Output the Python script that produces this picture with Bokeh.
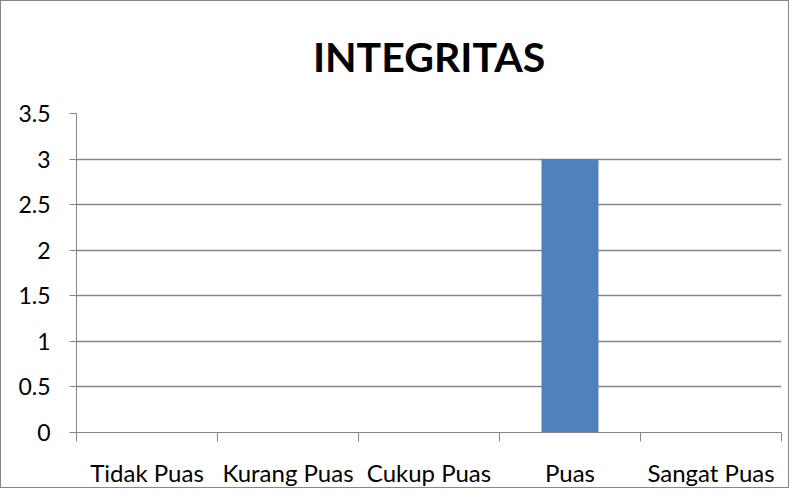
from bokeh.plotting import figure
from bokeh.models import Range1d, FixedTicker, NumeralTickFormatter, ColumnDataSource
from bokeh.embed import file_html
from bokeh.resources import INLINE

# ---- data ----
categories = ["Tidak Puas", "Kurang Puas", "Cukup Puas", "Puas", "Sangat Puas"]
values = [0, 0, 0, 3, 0]
y_ticks = [0, 0.5, 1, 1.5, 2, 2.5, 3, 3.5]

positions = [i + 0.5 for i in range(len(categories))]
boundaries = list(range(len(categories) + 1))

src = ColumnDataSource(dict(x=positions, top=values, cat=categories))

FONT = "Lato"
GRID = "#868686"

p = figure(width=789, height=488, output_backend="svg", toolbar_location=None,
           x_range=Range1d(0, len(categories)), y_range=Range1d(0, y_ticks[-1]),
           min_border_left=75, min_border_right=9, min_border_top=111, min_border_bottom=53,
           title="INTEGRITAS")
p.styles = {"border": "1px solid #868686", "box-sizing": "border-box"}

p.title.text_font = FONT
p.title.text_font_style = "bold"
p.title.text_font_size = "41px"
p.title.align = "center"
p.title.vertical_align = "top"
p.title.text_color = "#000000"
p.title.standoff = 61

p.vbar(x="x", top="top", width=0.404, source=src, fill_color="#4F81BD", line_color=None)

# y axis
p.yaxis.ticker = FixedTicker(ticks=y_ticks)
p.yaxis.formatter = NumeralTickFormatter(format="0.[0]")
p.yaxis.axis_line_color = GRID
p.yaxis.major_tick_line_color = GRID
p.yaxis.major_tick_out = 7
p.yaxis.major_tick_in = 0
p.yaxis.minor_tick_line_color = None
p.yaxis.major_label_standoff = 19
p.yaxis.major_label_text_font = FONT
p.yaxis.major_label_text_font_size = "23px"
p.yaxis.major_label_text_color = "#000000"

# x axis: labels at category centres, tick marks at category boundaries
p.xaxis.ticker = FixedTicker(ticks=positions, minor_ticks=boundaries)
p.xaxis.major_label_overrides = {pos: cat for pos, cat in zip(positions, categories)}
p.xaxis.axis_line_color = GRID
p.xaxis.major_tick_line_color = None
p.xaxis.major_tick_out = 0
p.xaxis.major_tick_in = 0
p.xaxis.minor_tick_line_color = GRID
p.xaxis.minor_tick_out = 9
p.xaxis.minor_tick_in = 0
p.xaxis.major_label_standoff = 16
p.xaxis.major_label_text_font = FONT
p.xaxis.major_label_text_font_size = "24px"
p.xaxis.major_label_text_color = "#000000"

p.xgrid.grid_line_color = None
p.ygrid.ticker = FixedTicker(ticks=y_ticks)
p.ygrid.grid_line_color = GRID
p.ygrid.grid_line_width = 1.5
p.outline_line_color = None

open("out.html", "w").write(file_html(p, INLINE))
